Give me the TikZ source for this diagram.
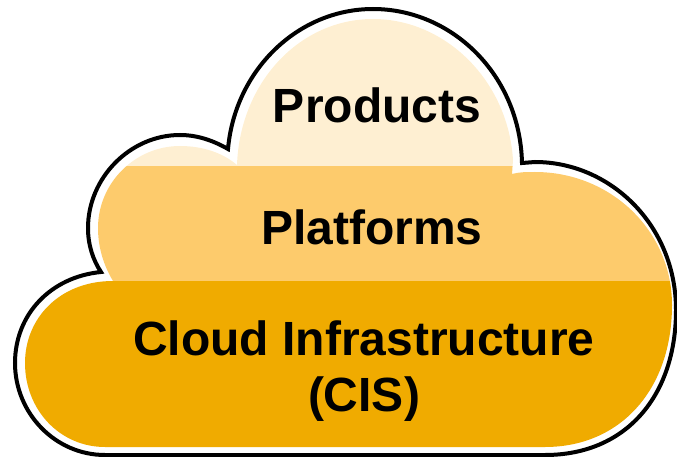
\documentclass[tikz,border=0pt]{standalone}
\usepackage{fontspec}
\setmainfont{Liberation Sans}
\definecolor{bandlight}{HTML}{FEEFD2}
\definecolor{bandmid}{HTML}{FDCB6C}
\definecolor{banddark}{HTML}{F0AB00}
\tikzset{
  outline/.style={draw=black,line width=4pt,line join=miter,miter limit=10},
  label/.style={font=\bfseries\fontsize{48}{56}\selectfont,text=black,inner sep=0pt,align=center,anchor=center}
}
\begin{document}
\begin{tikzpicture}[x=1pt,y=-1pt]
\useasboundingbox (0,0) rectangle (677,457);
\begin{scope}
\clip (113,281) .. controls (60,281) and (25,318) .. (25,363)
  .. controls (25,410) and (60,447) .. (105,447)
  -- (545,447)
  .. controls (620,447) and (672,390) .. (672,305)
  .. controls (672,230) and (610,172) .. (535,172)
  .. controls (527,172) and (519,172) .. (512,174)
  -- (513,160)
  .. controls (508,80) and (445,19) .. (373,19)
  .. controls (300,19) and (240,82) .. (237,165)
  .. controls (223,153) and (203,146) .. (180,146)
  .. controls (135,146) and (98,183) .. (98,228)
  .. controls (98,248) and (104,266) .. (113,281) -- cycle;
\fill[bandlight] (0,0) rectangle (677,166);
\fill[bandmid] (0,166) rectangle (677,281);
\fill[banddark] (0,281) rectangle (677,457);
\end{scope}
\draw[outline] (101,272) .. controls (50,277) and (15,315) .. (15,363)
  .. controls (15,413) and (55,455) .. (105,455)
  -- (545,455)
  .. controls (626,455) and (676,396) .. (676,310)
  .. controls (676,225) and (610,162) .. (535,162)
  -- (522,163)
  .. controls (520,75) and (452,9) .. (373,9)
  .. controls (298,9) and (235,70) .. (228,149)
  .. controls (214,141) and (198,135) .. (180,135)
  .. controls (130,135) and (88,178) .. (88,228)
  .. controls (88,245) and (93,260) .. (101,272) -- cycle;
\node[label] (products) at (377,105) {Products};
\node[label] (platforms) at (372,227) {Platforms};
\node[label] (cis) at (364,371) {Cloud Infrastructure\\(CIS)};
\end{tikzpicture}
\end{document}
